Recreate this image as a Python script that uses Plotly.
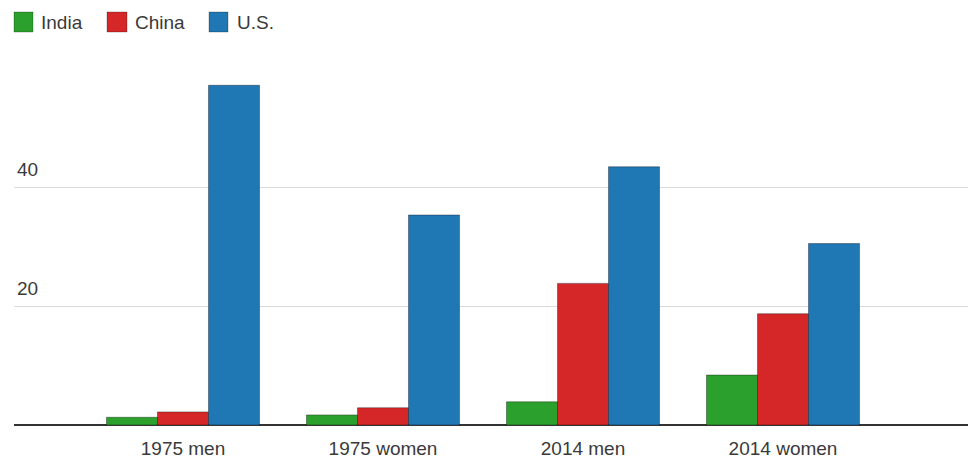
import plotly.graph_objects as go

categories = ["1975 men", "1975 women", "2014 men", "2014 women"]
india = [1.3, 1.7, 3.9, 8.4]
china = [2.2, 2.9, 23.8, 18.7]
us = [57.1, 35.3, 43.4, 30.5]
series_names = ["India", "China", "U.S."]
colors = ["#2ca02c", "#d62728", "#1f77b4"]
y_ticks = [20, 40]

W, H = 971, 461
FONT = "Liberation Sans, Arial, sans-serif"
TXT = "#3a3a3a"

xpos = list(range(len(categories)))
fig = go.Figure()
for name, vals, col in zip(series_names, [india, china, us], colors):
    fig.add_trace(go.Bar(
        x=xpos, y=vals, name=name,
        marker=dict(color=col, line=dict(color="rgba(0,0,0,0.35)", width=1)),
        showlegend=False,
    ))

# plot area in pixels
px_l, px_r = 14, 968
py_top, py_bot = 68, 425
cat_step = 200.0
first_cat_px = 183
x0 = -(first_cat_px - px_l) / cat_step
x1 = x0 + (px_r - px_l) / cat_step

fig.update_layout(
    width=W, height=H,
    margin=dict(l=0, r=0, t=0, b=0),
    paper_bgcolor="white", plot_bgcolor="white",
    barmode="group", bargap=0.235, bargroupgap=0,
    font=dict(family=FONT, size=19, color=TXT),
    xaxis=dict(
        domain=[px_l / W, px_r / W],
        range=[x0, x1],
        tickvals=xpos, ticktext=categories,
        showgrid=False, zeroline=False,
        showline=False,
        ticks="outside", ticklen=6, tickcolor="rgba(0,0,0,0)",
        tickfont=dict(family=FONT, size=19, color=TXT),
        fixedrange=True,
    ),
    yaxis=dict(
        domain=[(H - py_bot) / H, (H - py_top) / H],
        range=[0, 60],
        tickvals=y_ticks,
        ticklabelposition="inside top",
        ticklabelshift=-4,
        showgrid=True, gridcolor="#dcdcdc", gridwidth=1,
        zeroline=True, zerolinecolor="#333333", zerolinewidth=2,
        showline=False,
        tickfont=dict(family=FONT, size=19, color=TXT),
        fixedrange=True,
    ),
)

# custom legend with large squares
legend_items = [(14, 33, 39), (107, 127, 133), (209, 228, 235)]
for (sx0, sx1, tx), name, col in zip(legend_items, series_names, colors):
    fig.add_shape(type="rect", xref="paper", yref="paper",
                  x0=sx0 / W, x1=sx1 / W, y0=1 - 32 / H, y1=1 - 12 / H,
                  fillcolor=col, line=dict(color="rgba(0,0,0,0.25)", width=1))
    fig.add_annotation(xref="paper", yref="paper", x=tx / W, y=1 - 22 / H,
                       text=name, showarrow=False, xanchor="left", yanchor="middle",
                       font=dict(family=FONT, size=19, color=TXT))

fig.write_html("out.html")
